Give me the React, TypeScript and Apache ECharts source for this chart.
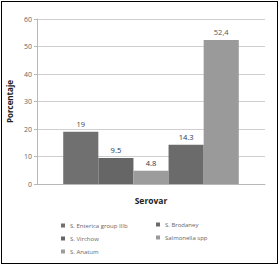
import React, { useEffect, useRef } from "react";
import * as echarts from "echarts";

const categories = [""];
const seriesNames = [
  "S. Enterica group IIIb",
  "S. Virchow",
  "S. Anatum",
  "S. Brodaney",
  "Salmonella spp",
];
const seriesValues = [19, 9.5, 4.8, 14.3, 52.4];
const valueLabels = ["19", "9.5", "4.8", "14.3", "52,4"];
const seriesColors = ["#707070", "#666666", "#9c9c9c", "#6b6b6b", "#9a9a9a"];
const labelColors = ["#444444", "#2b3450", "#2b3450", "#2b3450", "#555555"];
const legendCol1 = ["S. Enterica group IIIb", "S. Virchow", "S. Anatum"];
const legendCol2 = ["S. Brodaney", "Salmonella spp"];
const yTicks = { min: 0, max: 60, interval: 10 };

const FONT = "'Open Sans', 'Noto Sans', sans-serif";

export default function App() {
  const ref = useRef<HTMLDivElement>(null);
  useEffect(() => {
    document.body.style.margin = "0";
    const chart = echarts.init(ref.current!, undefined, { renderer: "svg" });
    const legendCommon = {
      orient: "vertical" as const,
      itemWidth: 4,
      itemHeight: 4,
      itemGap: 6,
      padding: 0,
      icon: "rect",
      textStyle: { fontSize: 6, color: "#666", fontFamily: FONT, lineHeight: 7 },
      selectedMode: false,
    };
    chart.setOption({
      animation: false,
      backgroundColor: "#ffffff",
      textStyle: { fontFamily: FONT },
      grid: { left: 37, right: 14, top: 19, bottom: 82, outerBoundsMode: "none", containLabel: false },
      legend: [
        { ...legendCommon, data: legendCol1, left: 61, top: 222 },
        { ...legendCommon, data: legendCol2, left: 156, top: 221 },
      ],
      xAxis: {
        type: "category",
        data: categories,
        name: "Serovar",
        nameLocation: "middle",
        nameGap: 12,
        nameTextStyle: { fontSize: 8.5, fontWeight: "bold", color: "#222", fontFamily: FONT },
        axisLine: { lineStyle: { color: "#b8b8b8" } },
        axisTick: { show: false },
        axisLabel: { show: false },
      },
      yAxis: {
        type: "value",
        min: yTicks.min,
        max: yTicks.max,
        interval: yTicks.interval,
        name: "Porcentaje",
        nameLocation: "middle",
        nameGap: 12,
        nameTextStyle: { fontSize: 8, fontWeight: "bold", color: "#222", fontFamily: FONT },
        axisLine: { show: true, lineStyle: { color: "#b8b8b8" } },
        axisTick: { show: true, length: 3, lineStyle: { color: "#b8b8b8" } },
        axisLabel: { fontSize: 7, color: "#666", margin: 5, fontFamily: FONT },
        splitLine: { lineStyle: { color: "#cfcfcf" } },
      },
      series: seriesNames.map((name, i) => ({
        type: "bar",
        name,
        data: [seriesValues[i]],
        barGap: "0%",
        barCategoryGap: "23%",
        itemStyle: { color: seriesColors[i] },
        label: {
          show: true,
          position: "top",
          distance: 4,
          fontSize: 7.5,
          color: labelColors[i],
          fontFamily: FONT,
          formatter: () => valueLabels[i],
        },
      })),
    });
    return () => chart.dispose();
  }, []);
  return (
    <div style={{ position: "relative", width: 279, height: 266, background: "#fff" }}>
      <div ref={ref} style={{ position: "absolute", left: 0, top: 0, width: 279, height: 266 }} />
      <div
        style={{
          position: "absolute",
          left: 1,
          top: 1,
          width: 277,
          height: 263,
          boxSizing: "border-box",
          border: "1px solid #000",
          pointerEvents: "none",
        }}
      />
    </div>
  );
}
